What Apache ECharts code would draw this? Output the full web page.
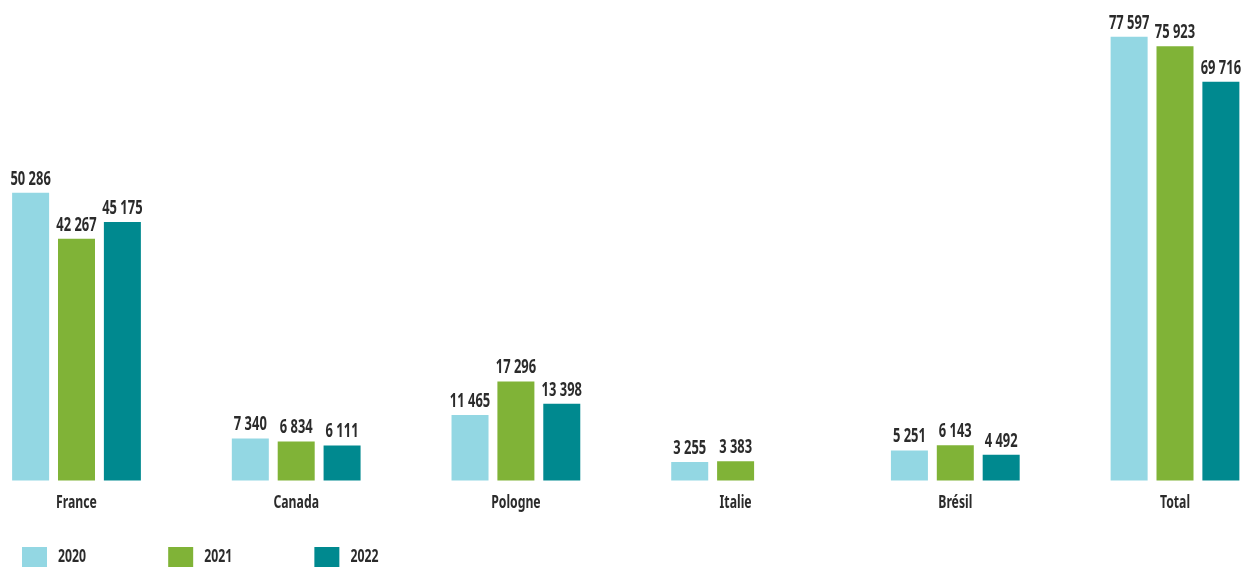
<!DOCTYPE html>
<html>
<head>
    <meta charset="utf-8">
    <title>Chart</title>
    <script src="https://cdn.jsdelivr.net/npm/echarts@6/dist/echarts.min.js"></script>
    <style>
        html, body { margin: 0; padding: 0; background: #fff; }
        #main { width: 1245px; height: 567px; }
    </style>
</head>
<body>
<div id="main"></div>
<script type="text/javascript">
var categories = ['France', 'Canada', 'Pologne', 'Italie', 'Brésil', 'Total'];
var years = ['2020', '2021', '2022'];
var values2020 = [50286, 7340, 11465, 3255, 5251, 77597];
var values2021 = [42267, 6834, 17296, 3383, 6143, 75923];
var values2022 = [45175, 6111, 13398, null, 4492, 69716];
var colors = ['#93d7e3', '#80b337', '#00898f'];

var font = "'Noto Sans', 'DejaVu Sans', sans-serif";
// no condensed face installed, so texts get squeezed horizontally after render
var squeeze = 0.68;

function fmt(v) {
    return String(v).replace(/\B(?=(\d{3})+(?!\d))/g, ' ');
}

function makeSeries(name, data, color) {
    return {
        name: name,
        type: 'bar',
        data: data,
        barWidth: 37,
        barGap: '24%',
        clip: false,
        itemStyle: { color: color },
        label: {
            show: true,
            position: 'top',
            distance: 4,
            color: '#2b2b2b',
            fontFamily: font,
            fontWeight: 'bold',
            fontSize: 19,
            formatter: function (p) { return fmt(p.value); }
        }
    };
}

var myChart = echarts.init(document.getElementById('main'));

var option = {
    animation: false,
    color: colors,
    grid: { left: 76.5, right: 70, top: 22.9, bottom: 86.5, containLabel: false },
    legend: {
        data: years,
        left: 22,
        top: 547,
        padding: 0,
        icon: 'rect',
        itemWidth: 25,
        itemHeight: 20,
        itemGap: 66,
        textStyle: { color: '#2b2b2b', fontFamily: font, fontWeight: 'bold', fontSize: 18, padding: [7, 0, 0, 9] }
    },
    xAxis: {
        type: 'category',
        data: categories,
        boundaryGap: false,
        axisLine: { show: false },
        axisTick: { show: false },
        splitLine: { show: false },
        axisLabel: {
            margin: 13,
            color: '#2b2b2b',
            fontFamily: font,
            fontWeight: 'bold',
            fontSize: 18
        }
    },
    yAxis: {
        type: 'value',
        min: 0,
        max: 80000,
        show: false,
        splitLine: { show: false }
    },
    series: [
        makeSeries(years[0], values2020, colors[0]),
        makeSeries(years[1], values2021, colors[1]),
        makeSeries(years[2], values2022, colors[2])
    ]
};

// squeeze every text element around its anchor point
var squeezed = false;
function squeezeTexts() {
    if (squeezed) return;
    squeezed = true;
    var zr = myChart.getZr();
    function visit(el) {
        if (el.type === 'text') {
            el.originX = el.style.x || 0;
            el.originY = el.style.y || 0;
            el.scaleX = squeeze;
            el.markRedraw();
        }
        var tc = el.getTextContent && el.getTextContent();
        if (tc) visit(tc);
        if (el.childrenRef) el.childrenRef().forEach(visit);
    }
    zr.storage.getRoots().forEach(visit);
    zr.refreshImmediately();
}
myChart.on('finished', squeezeTexts);
myChart.setOption(option);
</script>
</body>
</html>
